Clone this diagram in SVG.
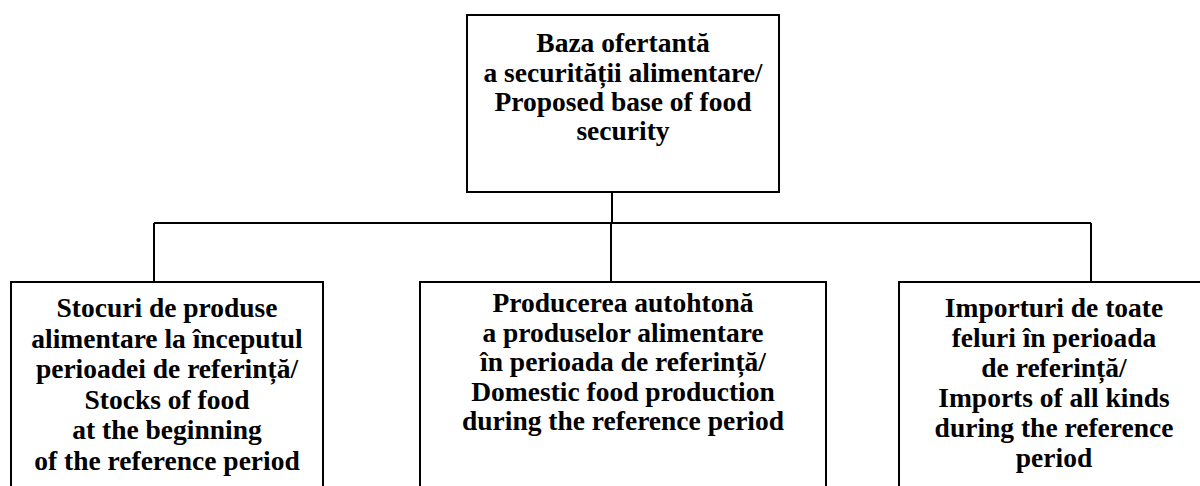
<svg xmlns="http://www.w3.org/2000/svg" width="1200" height="486" viewBox="0 0 1200 486">
<style>
.box{fill:#fff;stroke:#000;stroke-width:2}
.ln{stroke:#000;stroke-width:2;fill:none}
text{font-family:"Liberation Serif","Times New Roman",serif;font-weight:bold;font-size:27.5px;fill:#000;text-anchor:middle}
</style>
<rect width="1200" height="486" fill="#fff"/>
<g id="connectors">
<path class="ln" d="M612,192 V223 M154,223 H1091 M154,223 V282 M611,223 V282 M1091,223 V282"/>
</g>
<g id="top">
<rect class="box" x="467" y="15" width="312" height="177"/>
<text x="623" y="52">Baza ofertantă</text>
<text x="623" y="82">a securității alimentare/</text>
<text x="623" y="111">Proposed base of food</text>
<text x="623" y="140">security</text>
</g>
<g id="stocks">
<rect class="box" x="11" y="282" width="312" height="220"/>
<text x="167" y="317">Stocuri de produse</text>
<text x="167" y="347.5">alimentare la începutul</text>
<text x="167" y="378">perioadei de referință/</text>
<text x="167" y="408.5">Stocks of food</text>
<text x="167" y="439">at the beginning</text>
<text x="167" y="469.5">of the reference period</text>
</g>
<g id="production">
<rect class="box" x="420" y="282" width="406" height="220"/>
<text x="623" y="312">Producerea autohtonă</text>
<text x="623" y="341.5">a produselor alimentare</text>
<text x="623" y="371">în perioada de referință/</text>
<text x="623" y="400.5">Domestic food production</text>
<text x="623" y="430">during the reference period</text>
</g>
<g id="imports">
<rect class="box" x="899" y="282" width="320" height="220"/>
<text x="1054" y="317">Importuri de toate</text>
<text x="1054" y="347">feluri în perioada</text>
<text x="1054" y="377">de referință/</text>
<text x="1054" y="407">Imports of all kinds</text>
<text x="1054" y="437">during the reference</text>
<text x="1054" y="467">period</text>
</g>
</svg>
